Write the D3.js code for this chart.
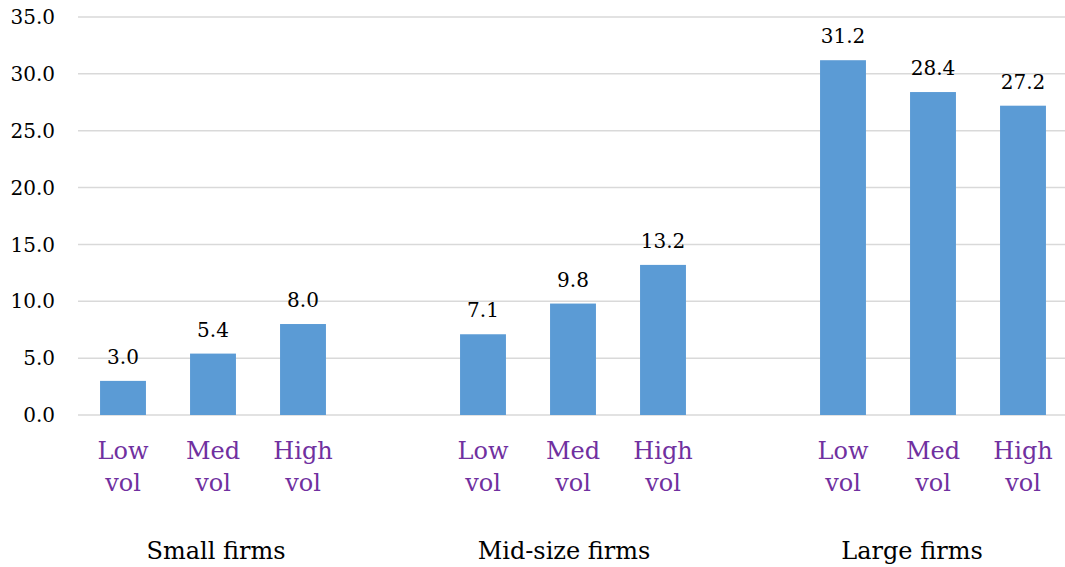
<!DOCTYPE html>
<html>
<head>
<meta charset="utf-8">
<script src="https://cdn.jsdelivr.net/npm/d3@7"></script>
<style>
  html, body { margin: 0; padding: 0; background: #fff; }
  svg { display: block; }
  text { font-family: "DejaVu Serif", serif; }
</style>
</head>
<body>
<svg id="chart" width="1065" height="567"></svg>
<script>
// Firm-size groups and volatility buckets
const groups = ["Small firms", "Mid-size firms", "Large firms"];
const volLevels = [["Low", "vol"], ["Med", "vol"], ["High", "vol"]];
const smallValues = [3.0, 5.4, 8.0];
const midValues = [7.1, 9.8, 13.2];
const largeValues = [31.2, 28.4, 27.2];
const yTicks = [0, 5, 10, 15, 20, 25, 30, 35];

const seriesByGroup = [smallValues, midValues, largeValues];

// Flatten into bars; an empty slot separates each group
const slots = [];
const bars = [];
groups.forEach((g, gi) => {
  volLevels.forEach((v, vi) => {
    const key = g + "|" + vi;
    slots.push(key);
    bars.push({ key, group: g, label: v, value: seriesByGroup[gi][vi] });
  });
  if (gi < groups.length - 1) slots.push("gap" + gi);
});

const svg = d3.select("#chart");
const plotLeft = 78, plotRight = 1068, plotTop = 17, plotBottom = 415;

const x = d3.scaleBand().domain(slots).range([plotLeft, plotRight]).paddingInner(0.49).paddingOuter(0.245);
const y = d3.scaleLinear().domain([0, 35]).range([plotBottom, plotTop]);

// Horizontal gridlines
svg.append("g")
  .selectAll("line")
  .data(yTicks)
  .join("line")
  .attr("x1", plotLeft)
  .attr("x2", 1065)
  .attr("y1", d => y(d))
  .attr("y2", d => y(d))
  .attr("stroke", "#d9d9d9")
  .attr("stroke-width", 1.5);

// Y tick labels
svg.append("g")
  .selectAll("text")
  .data(yTicks)
  .join("text")
  .attr("x", 55)
  .attr("y", d => y(d))
  .attr("dy", "0.36em")
  .attr("text-anchor", "end")
  .attr("font-size", 20)
  .attr("fill", "#000")
  .text(d => d.toFixed(1));

// Bars
svg.append("g")
  .selectAll("rect")
  .data(bars)
  .join("rect")
  .attr("x", d => x(d.key))
  .attr("width", x.bandwidth())
  .attr("y", d => y(d.value))
  .attr("height", d => y(0) - y(d.value))
  .attr("fill", "#5b9bd5");

// Value labels
svg.append("g")
  .selectAll("text")
  .data(bars)
  .join("text")
  .attr("x", d => x(d.key) + x.bandwidth() / 2)
  .attr("y", d => y(d.value) - 17)
  .attr("text-anchor", "middle")
  .attr("font-size", 20)
  .attr("fill", "#000")
  .text(d => d.value.toFixed(1));

// Volatility category labels (two lines)
const cat = svg.append("g")
  .selectAll("text")
  .data(bars)
  .join("text")
  .attr("text-anchor", "middle")
  .attr("font-size", 24)
  .attr("fill", "#7030a0");
cat.append("tspan")
  .attr("x", d => x(d.key) + x.bandwidth() / 2)
  .attr("y", 459)
  .text(d => d.label[0]);
cat.append("tspan")
  .attr("x", d => x(d.key) + x.bandwidth() / 2)
  .attr("y", 491)
  .text(d => d.label[1]);

// Group labels
const gx = d3.scalePoint().domain(groups).range([216, 912]);
svg.append("g")
  .selectAll("text")
  .data(groups)
  .join("text")
  .attr("x", d => gx(d))
  .attr("y", 559)
  .attr("text-anchor", "middle")
  .attr("font-size", 24)
  .attr("fill", "#000")
  .text(d => d);
</script>
</body>
</html>
